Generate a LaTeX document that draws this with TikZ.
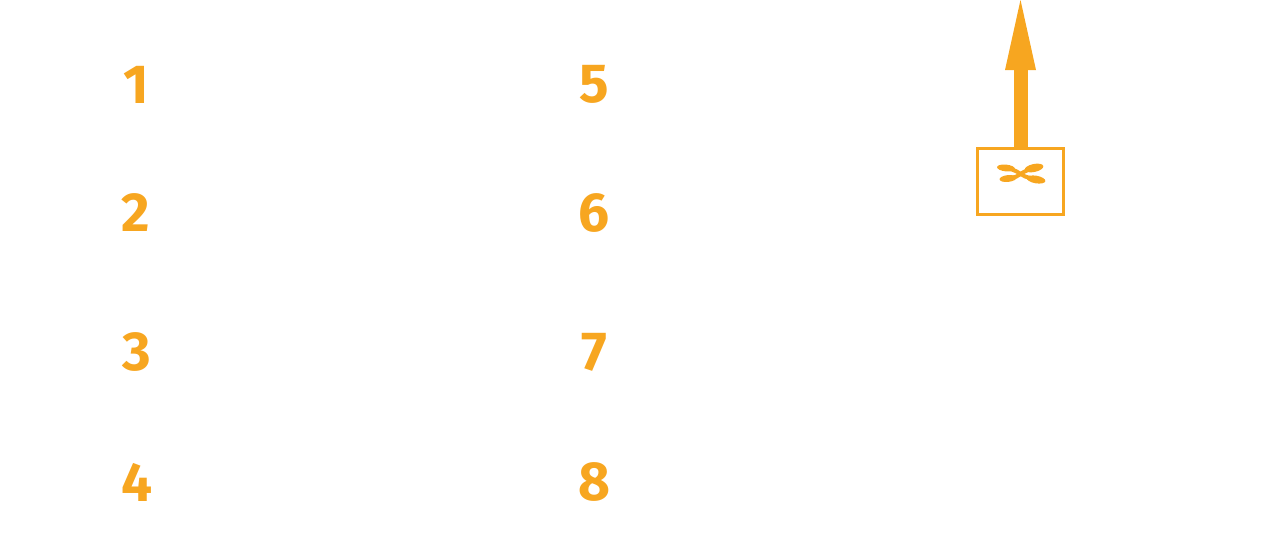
\documentclass[tikz,border=0pt]{standalone}
\usepackage{fontspec}
\setmainfont{Fira Sans}
\definecolor{orng}{HTML}{F7A620}
\tikzset{
  num/.style={text=orng, font=\fontsize{55}{55}\selectfont\bfseries, inner sep=0pt, anchor=center},
  iconbox/.style={draw=orng, line width=3pt, minimum width=86pt, minimum height=66pt, inner sep=0pt},
  chrom/.style={draw=orng, line width=4pt, line cap=round},
  blob/.style={fill=orng, draw=none}
}
\begin{document}
\begin{tikzpicture}[x=1pt,y=-1pt]
\useasboundingbox (0,0) rectangle (1266,549);
\node[num] (n1) at (136,85) {1};
\node[num] (n2) at (136,213) {2};
\node[num] (n3) at (137,352) {3};
\node[num] (n4) at (137,482) {4};
\node[num] (n5) at (594,84) {5};
\node[num] (n6) at (594,213) {6};
\node[num] (n7) at (594,352) {7};
\node[num] (n8) at (594,482) {8};
\node[iconbox] (box) at (1020.5,181.5) {};
\coordinate (tip) at (1020.5,0);
% arrow drawn as shaft + head
\fill[orng] ([xshift=-7pt,yshift=-1.5pt]box.north) rectangle ([xshift=7pt,yshift=-68pt]tip);
\fill[orng] ([xshift=-15.5pt,yshift=-70pt]tip) -- (tip) -- ([xshift=15.5pt,yshift=-70pt]tip) -- cycle;
% chromosome-like symbol
\draw[chrom] (1012,169.5) .. controls (1018,171) and (1023,177) .. (1030,178);
\draw[chrom] (1028,170) .. controls (1022,172) and (1018,177) .. (1012,178);
\fill[blob, rotate around={-6:(1006,168)}] (1006,168) ellipse (9pt and 3.4pt);
\fill[blob, rotate around={12:(1034,168)}] (1034,168) ellipse (9.5pt and 4pt);
\fill[blob, rotate around={6:(1008,178.5)}] (1008,178.5) ellipse (8.5pt and 3.4pt);
\fill[blob, rotate around={-10:(1036,179.5)}] (1036,179.5) ellipse (9.5pt and 3.8pt);
\end{tikzpicture}
\end{document}
